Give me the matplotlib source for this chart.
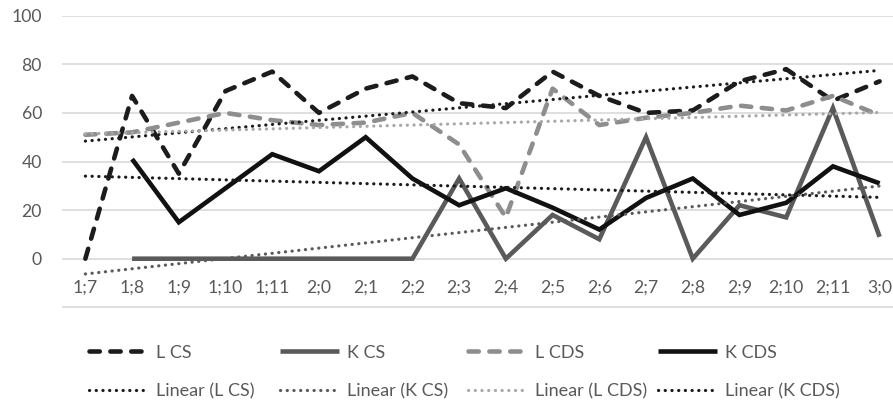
import numpy as np
import matplotlib
matplotlib.use("Agg")
import matplotlib.pyplot as plt

plt.rcParams['font.family'] = ['Lato', 'DejaVu Sans']

ages = ['1;7', '1;8', '1;9', '1;10', '1;11', '2;0', '2;1', '2;2', '2;3',
        '2;4', '2;5', '2;6', '2;7', '2;8', '2;9', '2;10', '2;11', '3;0']
nan = np.nan
l_cs = [0, 67, 35, 69, 77, 60, 70, 75, 64, 62, 77, 67, 60, 61, 73, 78, 65, 73]
k_cs = [nan, 0, 0, 0, 0, 0, 0, 0, 33, 0, 18, 8, 50, 0, 22, 17, 62, 9]
l_cds = [51, 52, 56, 60, 57, 55, 56, 60, 47, 17, 70, 55, 58, 60, 63, 61, 67, 59]
k_cds = [nan, 41, 15, 29, 43, 36, 50, 33, 22, 29, 21, 12, 25, 33, 18, 23, 38, 31]

W, H = 893, 403
fig = plt.figure(figsize=(W / 100, H / 100), dpi=100)
# plot area in pixels: left 62, top 15.7 (value 100), 2.43 px per unit
ymin = -20.6
bottom_px = 15.7 + (100 - ymin) * 2.43
ax = fig.add_axes([62 / W, 1 - bottom_px / H, 841 / W, (bottom_px - 15.7) / H])

x = np.arange(len(ages))
lw = 3.3
dash = (2.25, 2.3)
series = [
    ('L CS', l_cs, '#1c1c1c', dash),
    ('K CS', k_cs, '#5a5a5a', None),
    ('L CDS', l_cds, '#8e8e8e', dash),
    ('K CDS', k_cds, '#111111', None),
]
trend_colors = ['#1c1c1c', '#5a5a5a', '#a8a8a8', '#1c1c1c']

main_handles = []
for name, vals, col, ds in series:
    if ds is None:
        h, = ax.plot(x, vals, color=col, lw=lw, solid_joinstyle='miter',
                     solid_capstyle='butt', label=name, zorder=3)
    else:
        h, = ax.plot(x, vals, color=col, lw=lw, dashes=ds,
                     dash_capstyle='round', dash_joinstyle='round',
                     label=name, zorder=3)
    main_handles.append(h)

# linear trendlines fitted to each series over the whole age range
trend_handles = []
for (name, vals, _, _), tcol in zip(series, trend_colors):
    v = np.array(vals, dtype=float)
    ok = ~np.isnan(v)
    k, b = np.polyfit(x[ok], v[ok], 1)
    h, = ax.plot(x, k * x + b, color=tcol, lw=2.3, linestyle=(0, (0.05, 2.05)),
                 dash_capstyle='round', label='Linear (%s)' % name, zorder=4)
    trend_handles.append(h)

ax.set_xlim(-0.5, 17.5)
ax.set_ylim(ymin, 100)
ax.set_yticks(np.arange(-20, 101, 20))
ax.set_yticklabels([''] + [str(v) for v in range(0, 101, 20)])
ax.yaxis.grid(True, color='#d9d9d9', lw=1.2)
ax.set_axisbelow(True)
for s in ax.spines.values():
    s.set_visible(False)
ax.spines['bottom'].set_position(('data', 0))
ax.set_xticks(x)
ax.set_xticklabels(ages)
ax.tick_params(axis='x', length=0, pad=15, labelsize=12.7, labelcolor='#595959')
ax.tick_params(axis='y', length=0, pad=14.4, labelsize=12.7, labelcolor='#595959')

# legend: two rows, four columns
col_x = [89, 280, 468, 658]
row_y = [352.7, 391.7]
for i in range(4):
    for r, h in enumerate([main_handles[i], trend_handles[i]]):
        fig.legend(handles=[h], loc='center left',
                   bbox_to_anchor=(col_x[i] / W, 1 - row_y[r] / H),
                   frameon=False, fontsize=13, borderpad=0,
                   borderaxespad=0, handlelength=3.27,
                   handletextpad=0.45, labelcolor='#595959')

fig.savefig('out.png', dpi=100)
